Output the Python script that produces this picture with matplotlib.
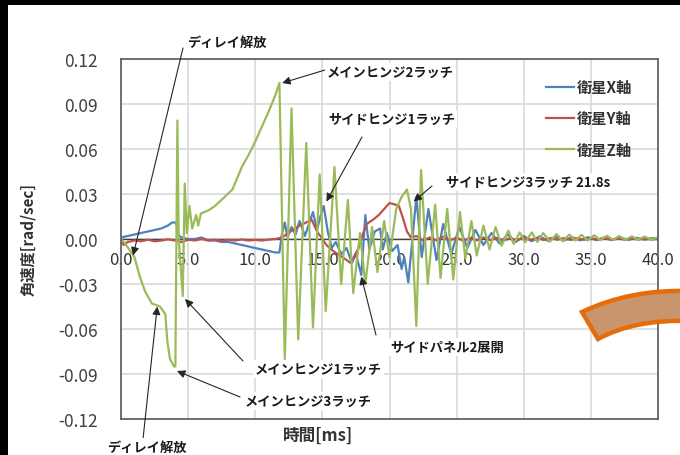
import matplotlib
matplotlib.use("Agg")
import matplotlib.pyplot as plt
from matplotlib.path import Path
from matplotlib.patches import PathPatch, Rectangle

plt.rcParams['font.family'] = ['Noto Sans CJK JP', 'DejaVu Sans']

# ---- data ----
x_t = [0.0, 0.5, 1.0, 1.5, 2.0, 2.5, 3.0, 3.5, 3.8, 4.1, 4.25, 4.5, 5.0, 5.5, 6.0, 6.5, 7.0, 7.5,
       8.0, 8.5, 9.0, 9.5, 10.0, 10.5, 11.0, 11.5, 11.8, 12.0, 12.2, 12.4, 12.7, 13.0, 13.3, 13.7,
       14.0, 14.3, 14.6, 14.85, 15.1, 15.4, 15.7, 16.0, 16.4, 16.8, 17.2, 17.5, 17.9, 18.2, 18.5,
       18.9, 19.3, 19.5, 19.8, 20.2, 20.6, 20.9, 21.1, 21.4, 22.0, 22.4, 22.9, 23.5, 24.0, 24.6,
       25.2, 25.8, 26.4, 27.0, 27.6, 28.2, 28.8, 29.4, 30.0, 30.6, 31.2, 31.8, 32.4, 33.0, 33.6,
       34.2, 34.8, 35.4, 36.0, 36.6, 37.2, 37.8, 38.4, 39.0, 39.6, 40.0]
x_v = [0.001, 0.002, 0.003, 0.004, 0.005, 0.006, 0.007, 0.009, 0.011, 0.011, 0.003, 0.001, 0.0,
       0.0, 0.001, -0.001, -0.001, -0.002, -0.002, -0.003, -0.004, -0.005, -0.006, -0.007, -0.008,
       -0.009, -0.009, 0.004, 0.011, 0.001, 0.008, 0.003, 0.012, 0.002, 0.010, 0.018, 0.006, 0.015,
       0.022, 0.005, -0.006, -0.002, -0.010, -0.006, -0.016, -0.010, -0.024, 0.016, -0.007, 0.005,
       0.007, -0.007, 0.004, -0.008, -0.004, -0.020, -0.012, -0.029, 0.028, -0.012, 0.020, -0.014,
       0.010, -0.010, 0.008, -0.006, 0.006, -0.004, 0.004, -0.003, 0.003, -0.002, 0.002, -0.0015,
       0.0018, -0.0012, 0.0015, -0.001, 0.0013, -0.0009, 0.0012, -0.0008, 0.001, -0.0007, 0.0009,
       -0.0006, 0.0008, -0.0005, 0.0006, 0.0]

y_t = [0.0, 0.2, 0.5, 1.0, 1.5, 2.0, 2.5, 3.0, 3.5, 4.0, 4.5, 5.0, 5.5, 6.0, 6.5, 7.0, 7.5, 8.0,
       8.5, 9.0, 9.5, 10.0, 10.5, 11.0, 11.5, 12.0, 12.3, 12.8, 13.3, 13.8, 14.2, 14.6, 15.0, 15.3,
       15.8, 16.3, 16.8, 17.1, 17.4, 17.7, 18.0, 18.3, 18.8, 19.2, 19.6, 20.0, 20.4, 20.7, 21.0,
       21.3, 21.6, 22.0, 22.5, 23.0, 23.5, 24.0, 24.5, 25.0, 25.5, 26.0, 26.5, 27.0, 27.5, 28.0,
       28.5, 29.0, 29.5, 30.0, 30.5, 31.0, 31.5, 32.0, 32.5, 33.0, 33.5, 34.0, 34.5, 35.0, 35.5,
       36.0, 36.5, 37.0, 37.5, 38.0, 38.5, 39.0, 39.5, 40.0]
y_v = [-0.001, -0.004, -0.002, -0.001, -0.0015, -0.0005, -0.0015, -0.001, -0.0002, -0.001,
       -0.002, -0.0005, -0.001, 0.0, -0.001, -0.0005, -0.0012, -0.0005, -0.001, -0.0003, -0.001,
       -0.0006, -0.001, -0.0004, 0.0, 0.001, 0.003, 0.006, 0.009, 0.011, 0.013, 0.005, 0.0, -0.004,
       -0.008, -0.011, -0.014, -0.016, -0.011, -0.006, 0.003, 0.010, 0.013, 0.016, 0.020, 0.024,
       0.023, 0.022, 0.014, 0.005, 0.001, 0.002, -0.001, 0.001, -0.001, 0.0015, -0.001, 0.001,
       -0.0012, 0.0008, -0.001, 0.001, -0.0008, 0.0008, -0.001, 0.0006, -0.0008, 0.0008, -0.0006,
       0.0007, -0.0007, 0.0006, -0.0005, 0.0006, -0.0006, 0.0005, -0.0005, 0.0006, -0.0004,
       0.0005, -0.0005, 0.0004, -0.0004, 0.0005, -0.0004, 0.0004, -0.0003, 0.0]

z_t = [0.0, 0.3, 0.7, 1.0, 1.4, 1.8, 2.3, 2.9, 3.3, 3.45, 3.65, 3.95, 4.05, 4.2, 4.3, 4.6, 4.75,
       4.9, 5.1, 5.3, 5.6, 5.75, 5.95, 6.5, 7.0, 7.6, 8.3, 9.0, 9.5, 10.0, 10.5, 11.0, 11.5, 11.8,
       12.2, 12.7, 13.2, 13.8, 14.3, 14.8, 15.25, 15.9, 16.4, 16.9, 17.3, 17.8, 18.2, 18.7, 19.1,
       19.6, 20.0, 20.5, 20.9, 21.3, 21.6, 22.0, 22.35, 22.85, 23.4, 23.8, 24.3, 24.75, 25.25,
       25.65, 26.1, 26.5, 27.0, 27.45, 27.9, 28.35, 28.85, 29.25, 29.7, 30.1, 30.6, 31.0, 31.45,
       31.95, 32.45, 32.9, 33.4, 33.85, 34.3, 34.75, 35.25, 35.7, 36.2, 36.65, 37.1, 37.6, 38.05,
       38.5, 39.0, 39.5, 40.0]
z_v = [0.0, -0.003, -0.008, -0.012, -0.025, -0.035, -0.043, -0.045, -0.050, -0.068, -0.080,
       -0.085, -0.085, 0.079, 0.0, -0.038, 0.037, 0.004, 0.022, 0.007, 0.016, 0.009, 0.017, 0.019,
       0.022, 0.027, 0.033, 0.048, 0.056, 0.065, 0.075, 0.085, 0.096, 0.104, -0.080, 0.087, -0.067,
       0.064, -0.059, 0.043, -0.048, 0.048, -0.030, 0.026, -0.036, 0.004, -0.030, 0.008, -0.022,
       0.012, -0.012, 0.020, 0.028, 0.033, 0.020, -0.058, 0.046, -0.030, 0.023, -0.026, 0.020,
       -0.027, 0.018, -0.013, 0.012, -0.011, 0.009, -0.007, 0.008, -0.0045, 0.0055, -0.0033,
       0.0044, -0.0022, 0.0044, -0.002, 0.004, -0.0018, 0.0033, -0.0015, 0.003, -0.001, 0.0028,
       -0.001, 0.0025, -0.0008, 0.0022, -0.0006, 0.002, -0.0005, 0.0018, -0.0004, 0.0015, -0.0003,
       0.001]

series_names = ['衛星X軸', '衛星Y軸', '衛星Z軸']
series_colors = ['#4F81BD', '#C0504D', '#9BBB59']

x_ticks = [0, 5, 10, 15, 20, 25, 30, 35, 40]
y_ticks = [-0.12, -0.09, -0.06, -0.03, 0.0, 0.03, 0.06, 0.09, 0.12]

# annotations: label, tip (t, v), line start (px, px from top), label pos (px, px from top)
notes = [
    ('ディレイ解放', (0.9, -0.011), (183, 49), (187, 43)),
    ('ディレイ解放', (2.7, -0.045), (143, 440), (107, 448)),
    ('メインヒンジ2ラッチ', (12.0, 0.104), (325, 71), (327, 73)),
    ('サイドヒンジ1ラッチ', (15.3, 0.025), (362, 138), (328, 120)),
    ('サイドヒンジ3ラッチ 21.8s', (21.8, 0.025), (432, 187), (446, 183)),
    ('サイドパネル2展開', (17.9, -0.025), (376, 336), (390, 348)),
    ('メインヒンジ1ラッチ', (4.77, -0.040), (243, 362), (255, 370)),
    ('メインヒンジ3ラッチ', (4.17, -0.088), (240, 398), (245, 402)),
]

W, H = 680, 456
fig = plt.figure(figsize=(6.8, 4.56), dpi=100)
ax = fig.add_axes([121 / W, 1 - 420 / H, (658 - 121) / W, (420 - 60) / H])

ax.grid(True, color='#d9d9d9', lw=1.2, zorder=0)
ax.set_axisbelow(True)
ax.axhline(0, color='#404040', lw=1.0, zorder=1.5)

for tt, vv, name, col in zip([x_t, y_t, z_t], [x_v, y_v, z_v], series_names, series_colors):
    ax.plot(tt, vv, color=col, lw=1.6, label=name, zorder=2)

ax.set_xlim(0, 40)
ax.set_ylim(-0.12, 0.12)
ax.set_yticks(y_ticks)
ax.set_yticklabels(['%.2f' % v for v in y_ticks])
ax.set_xticks(x_ticks)
ax.tick_params(axis='y', length=0, pad=17, labelsize=12.5, labelcolor='#404040')
ax.tick_params(axis='x', length=0, labelbottom=False)
for s in ax.spines.values():
    s.set_color('#595959')
    s.set_linewidth(1.2)

# x tick labels sit just under the zero line
sec = ax.secondary_xaxis(0.5)
sec.xaxis.set_ticks_position('bottom')
sec.set_xticks(x_ticks)
sec.set_xticklabels(['%.1f' % v for v in x_ticks])
sec.tick_params(length=0, pad=9, labelsize=12, labelcolor='#333333')
for s in sec.spines.values():
    s.set_visible(False)

fig.text(28 / W, 1 - 240 / H, '角速度[rad/sec]', rotation=90, ha='center', va='center',
         fontsize=11, fontweight='bold', color='#333333')
fig.text(318 / W, 1 - 436 / H, '時間[ms]', ha='center', va='center', fontsize=12,
         fontweight='bold', color='#333333')

ax.legend(loc='upper left', bbox_to_anchor=(546 / W, 1 - 80 / H), bbox_transform=fig.transFigure,
          frameon=False, handlelength=1.8, handletextpad=0.2, labelspacing=1.0,
          borderpad=0, borderaxespad=0, labelcolor='#333333', prop={'weight': 'bold', 'size': 11})

for label, tip, start, pos in notes:
    ax.annotate('', xy=tip, xycoords='data', xytext=(start[0], H - start[1]),
                textcoords='figure pixels', annotation_clip=False,
                arrowprops=dict(arrowstyle='-|>', color='#262626', lw=0.8, shrinkA=0, shrinkB=0,
                                mutation_scale=12))
    fig.text(pos[0] / W, 1 - pos[1] / H, label, ha='left', va='center', fontsize=9.5,
             color='#1a1a1a', fontweight='bold', zorder=5,
             bbox=dict(facecolor='white', edgecolor='none', pad=1.5))

# black borders of the screenshot
fig.patches.append(Rectangle((0, 1 - 6 / H), 1, 6 / H, transform=fig.transFigure,
                             facecolor='black', edgecolor='none', zorder=10))
fig.patches.append(Rectangle((0, 0), 8 / W, 1, transform=fig.transFigure,
                             facecolor='black', edgecolor='none', zorder=10))

# orange curved arrow shape at the lower right
pts = [(582, 313), (630, 290), (690, 292), (690, 322), (635, 320), (598, 340), (582, 313)]
codes = [Path.MOVETO, Path.CURVE3, Path.CURVE3, Path.LINETO, Path.CURVE3, Path.CURVE3,
         Path.CLOSEPOLY]
path = Path([(px / W, 1 - py / H) for px, py in pts], codes)
fig.patches.append(PathPatch(path, transform=fig.transFigure, facecolor='#C9956C',
                             edgecolor='#E46C0A', lw=3.2, zorder=9))

fig.savefig('out.png', dpi=100)
